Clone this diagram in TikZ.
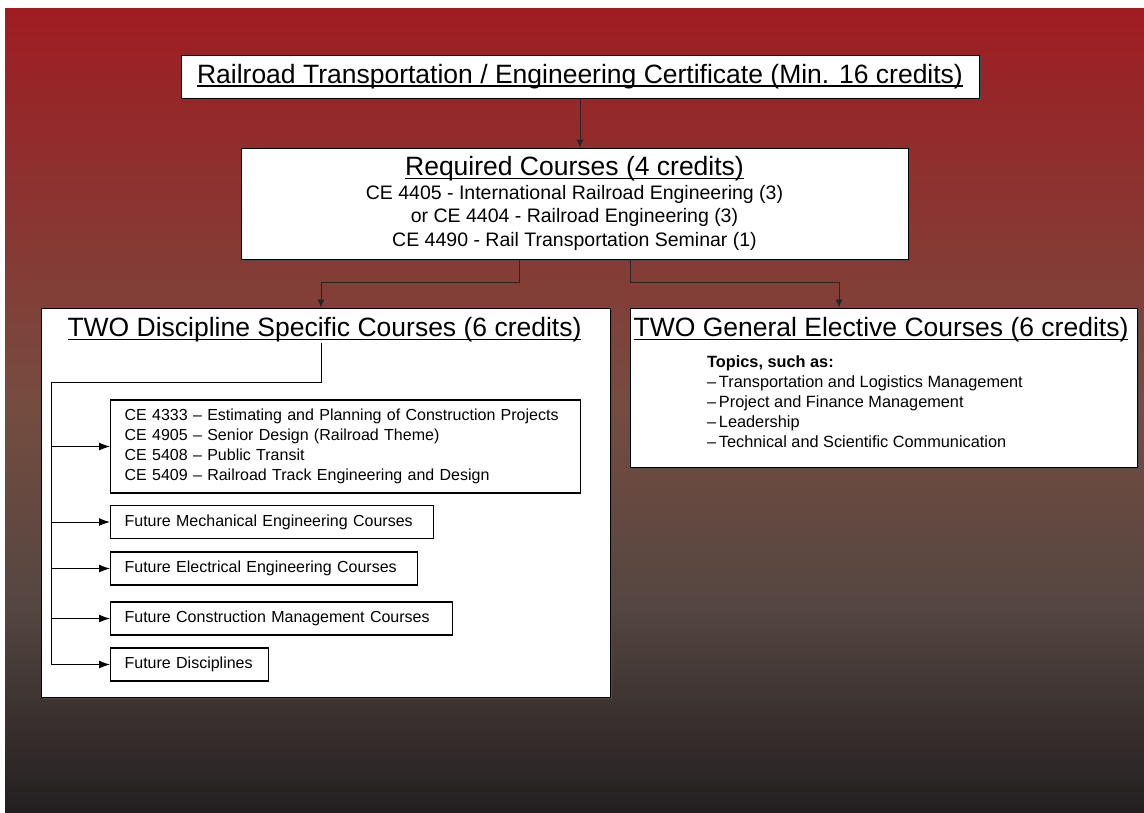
\documentclass[tikz,border=0pt]{standalone}
\usepackage{fontspec}
\setmainfont{Liberation Sans}
\usetikzlibrary{shapes,shadows,arrows.meta}
\definecolor{bgtop}{RGB}{160,28,34}
\definecolor{bgmid}{RGB}{118,76,64}
\definecolor{bglow}{RGB}{85,70,65}
\definecolor{bgbot}{RGB}{35,31,32}
\newcommand{\hdl}[1]{\setbox0\hbox{#1}\rlap{\rule[-3.5pt]{\wd0}{1.7pt}}\box0}
\tikzset{
	line/.style={draw, line width=1pt, arrows={-Latex[length=11pt, width=8pt]}},
	thin/.style={draw=black!85, line width=0.8pt, arrows={-Latex[length=8pt, width=7pt]}},
}
\tikzstyle{link} = [draw, line width=1pt]
\tikzstyle{bigbox} = [rectangle, draw, fill=white, line width=1pt, drop shadow={shadow xshift=1.5pt, shadow yshift=-1.5pt, fill=black!70, opacity=1}]
\tikzstyle{head} = [inner sep=0pt, font=\fontsize{26.5}{30}\selectfont]
\tikzstyle{subbox} = [rectangle, draw, fill=white, line width=1.2pt, anchor=west, inner xsep=14pt, minimum height=33pt, align=left, font=\fontsize{16}{20}\selectfont]

\begin{document}
\begin{tikzpicture}[x=1pt, y=-1pt]
	\fill [white] (0,0) rectangle (1144,812);
	\shade [top color=bgtop, bottom color=bgmid] (5,8) rectangle (1144,400.5);
	\shade [top color=bgmid, bottom color=bgbot, middle color=bglow] (5,400) rectangle (1144,812);
	
	\node [bigbox, minimum width=798pt, minimum height=43pt, font=\fontsize{26.5}{30}\selectfont] (title) at (580,76.5) {\hdl{Railroad Transportation / Engineering Certificate (Min. 16 credits)}};
	\node [bigbox, minimum width=667pt, minimum height=111pt, align=center, font=\fontsize{19.5}{23.5}\selectfont] (req) at (574.5,203.5) {{\fontsize{26.5}{30}\selectfont\hdl{Required Courses (4 credits)}}\\CE 4405 - International Railroad Engineering (3)\\or CE 4404 - Railroad Engineering (3)\\CE 4490 - Rail Transportation Seminar (1)};
	
	\node [bigbox, minimum width=569pt, minimum height=389pt] (lbox) at (325.5,502.5) {};
	\node [head] (lhead) at (324.5,330) {\hdl{TWO Discipline Specific Courses (6 credits)}};
	\node [bigbox, minimum width=507pt, minimum height=159pt] (rbox) at (883.5,387.5) {};
	\node [head] (rhead) at (881,330) {\hdl{TWO General Elective Courses (6 credits)}};
	\node [anchor=north west, align=left, inner sep=0pt, font=\fontsize{16.3}{20}\selectfont] (topics) at (707,355) {\textbf{Topics, such as:}\\–\,Transportation and Logistics Management\\–\,Project and Finance Management\\–\,Leadership\\–\,Technical and Scientific Communication};
	
	\node [subbox, text width=442pt, minimum height=93pt] (ce) at (110,446.5) {CE 4333 – Estimating and Planning of Construction Projects\\CE 4905 – Senior Design (Railroad Theme)\\CE 5408 – Public Transit\\CE 5409 – Railroad Track Engineering and Design};
	\node [subbox, text width=295pt] (mech) at (110,522) {Future Mechanical Engineering Courses};
	\node [subbox, text width=279pt] (elec) at (110,568.5) {Future Electrical Engineering Courses};
	\node [subbox, text width=314pt] (cm) at (110,618.5) {Future Construction Management Courses};
	\node [subbox, text width=130pt] (fd) at (110,664.5) {Future Disciplines};
	
	\path [thin] (title.south) -- (title.south |- req.north);
	\path [thin] ([xshift=-55pt]req.south) -- ++(0,23) -| ([xshift=-4.5pt]lbox.north);
	\path [thin] ([xshift=55.5pt]req.south) -- ++(0,23) -| ([xshift=-44.5pt]rbox.north);
	
	\coordinate (stem) at (321,382);
	\coordinate (rail) at (51,382);
	\path [link] (lhead.south -| stem) -- (stem) -- (rail) -- (rail |- fd.west);
	\foreach \b in {ce,mech,elec,cm,fd}
		\path [line] (rail |- \b.west) -- (\b.west);
\end{tikzpicture}
\end{document}
